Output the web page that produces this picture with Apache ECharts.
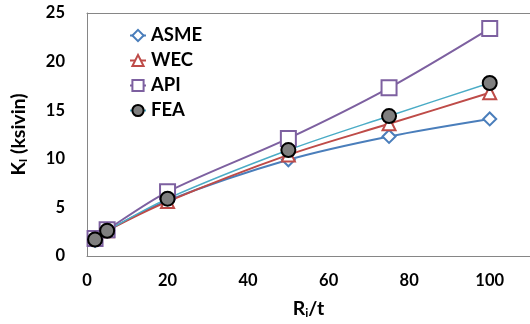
<!DOCTYPE html>
<html>
<head>
<meta charset="utf-8">
<script src="https://cdn.jsdelivr.net/npm/echarts@6/dist/echarts.min.js"></script>
<style>
html, body { margin: 0; padding: 0; background: #fff; }
#main { width: 530px; height: 324px; }
</style>
</head>
<body>
<div id="main"></div>
<script>
var ratio = [2, 5, 20, 50, 75, 100];
var asme = [1.6, 2.6, 5.7, 9.9, 12.3, 14.1];
var wec = [1.7, 2.6, 5.6, 10.4, 13.6, 16.8];
var api = [1.8, 2.7, 6.6, 12.1, 17.3, 23.4];
var fea = [1.7, 2.6, 5.9, 10.9, 14.4, 17.8];

function pairs(ys) {
    return ratio.map(function (x, i) { return [x, ys[i]]; });
}

var chartDom = document.getElementById('main');
var myChart = echarts.init(chartDom);
var option;

var font = 'Lato, "Liberation Sans", sans-serif';
var titleRich = {
    m: { fontSize: 19.5, fontWeight: 'bold', color: '#000', fontFamily: font },
    s: { fontSize: 12, fontWeight: 'bold', color: '#000', fontFamily: font, verticalAlign: 'bottom', padding: [9, 0, 0, 0] }
};

option = {
    animation: false,
    textStyle: { fontFamily: font },
    grid: {
        left: 87,
        top: 13,
        bottom: 68,
        right: 0,
        show: false
    },
    legend: {
        orient: 'vertical',
        left: 124,
        top: 21,
        itemGap: 6,
        itemWidth: 16,
        itemHeight: 14,
        textStyle: { fontSize: 18.5, fontWeight: 'bold', color: '#000', fontFamily: font },
        data: ['ASME', 'WEC', 'API', 'FEA']
    },
    xAxis: [
        {
            type: 'value',
            min: 0,
            max: 110,
            interval: 20,
            name: '{m|R}{s|i}{m|/t}',
            nameLocation: 'middle',
            nameGap: 42,
            nameTextStyle: { rich: titleRich },
            axisLine: { lineStyle: { color: '#868686' } },
            axisTick: { show: false },
            splitLine: { show: false },
            axisLabel: { fontSize: 16.5, fontWeight: 'bold', color: '#000', margin: 16, showMaxLabel: false }
        },
        {
            type: 'value',
            position: 'top',
            min: 0,
            max: 110,
            axisLine: { show: true, lineStyle: { color: '#868686' } },
            axisTick: { show: false },
            axisLabel: { show: false },
            splitLine: { show: false }
        }
    ],
    yAxis: {
        type: 'value',
        min: 0,
        max: 25,
        interval: 5,
        name: '{m|K}{s|I}{m| (ksivin)}',
        nameLocation: 'middle',
        nameGap: 58,
        nameTextStyle: { rich: titleRich },
        axisLine: { show: true, lineStyle: { color: '#868686' } },
        axisTick: { show: false },
        splitLine: { show: false },
        axisLabel: { fontSize: 16.5, fontWeight: 'bold', color: '#000', margin: 22 }
    },
    series: [
        {
            name: 'ASME',
            type: 'line',
            smooth: 0.3,
            data: pairs(asme),
            symbol: 'diamond',
            symbolSize: 13,
            lineStyle: { color: '#4A7EBB', width: 2 },
            itemStyle: { color: '#fff', borderColor: '#4A7EBB', borderWidth: 2 }
        },
        {
            name: 'WEC',
            type: 'line',
            smooth: 0.3,
            data: pairs(wec),
            symbol: 'triangle',
            symbolSize: 13,
            lineStyle: { color: '#BE4B48', width: 2 },
            itemStyle: { color: '#fff', borderColor: '#BE4B48', borderWidth: 2 }
        },
        {
            name: 'API',
            type: 'line',
            smooth: 0.3,
            data: pairs(api),
            symbol: 'rect',
            symbolSize: 15,
            lineStyle: { color: '#7D60A0', width: 2 },
            itemStyle: { color: '#fff', borderColor: '#7D60A0', borderWidth: 2 }
        },
        {
            name: 'FEA',
            type: 'line',
            smooth: 0.3,
            data: pairs(fea),
            symbol: 'circle',
            symbolSize: 14,
            lineStyle: { color: '#4BACC6', width: 1.5 },
            itemStyle: { color: '#7F7F7F', borderColor: '#000', borderWidth: 2 }
        }
    ]
};

option && myChart.setOption(option);
</script>
</body>
</html>
